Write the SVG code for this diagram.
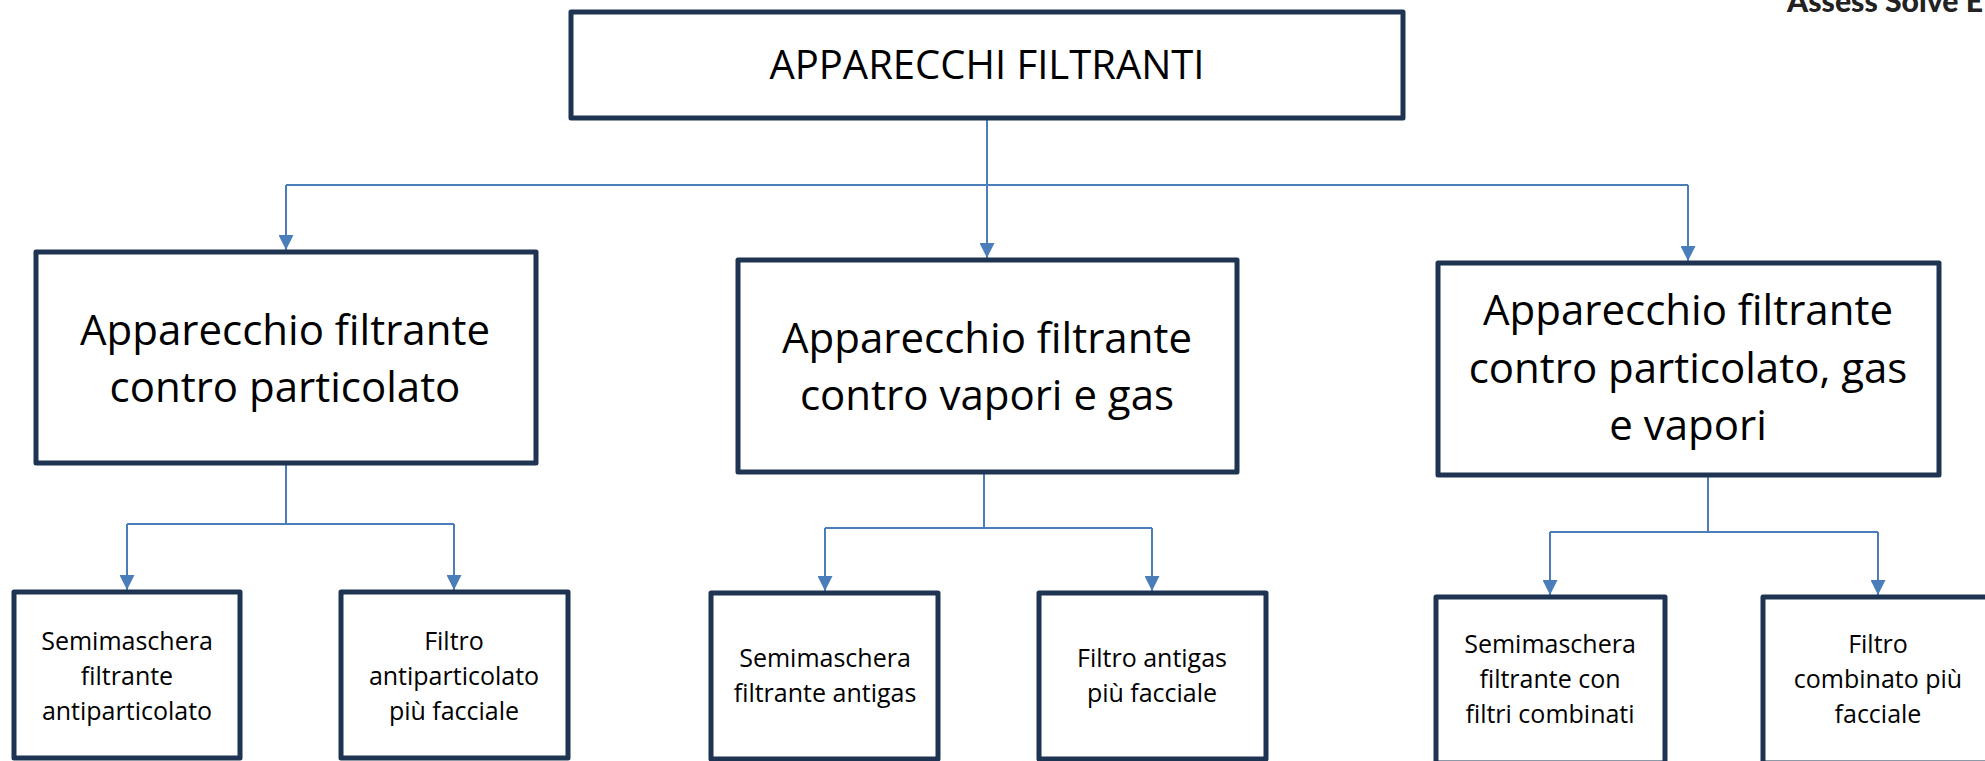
<svg xmlns="http://www.w3.org/2000/svg" width="1985" height="761" viewBox="0 0 1985 761">
<defs>
<style>
.box{fill:#ffffff;stroke:#1f3452;stroke-width:5;stroke-linejoin:round}
.conn{fill:none;stroke:#4a7ebb;stroke-width:2}
.t{font-family:"Open Sans","Liberation Sans",sans-serif;fill:#000;text-anchor:middle}
.big{font-size:42px}
.top{font-size:40px}
.small{font-size:25px}
.wm{font-family:Lato,Roboto,"Liberation Sans",sans-serif;font-weight:900;font-size:31px;fill:#222}
</style>
<marker id="arr" viewBox="0 0 10 10" refX="10" refY="5" markerWidth="15" markerHeight="15" markerUnits="userSpaceOnUse" orient="auto">
<path d="M0,0 L10,5 L0,10 z" fill="#4a7ebb"/>
</marker>
</defs>
<rect width="1985" height="761" fill="#ffffff"/>
<text class="wm" x="1787" y="12" textLength="196" lengthAdjust="spacingAndGlyphs">Assess Solve E</text>
<g id="connectors">
<polyline class="conn" points="987,118 987,185"/>
<polyline class="conn" points="286,185 1688,185"/>
<polyline class="conn" points="286,185 286,250" marker-end="url(#arr)"/>
<polyline class="conn" points="987,185 987,258" marker-end="url(#arr)"/>
<polyline class="conn" points="1688,185 1688,261" marker-end="url(#arr)"/>
<polyline class="conn" points="286,463 286,524"/>
<polyline class="conn" points="127,524 454,524"/>
<polyline class="conn" points="127,524 127,590" marker-end="url(#arr)"/>
<polyline class="conn" points="454,524 454,590" marker-end="url(#arr)"/>
<polyline class="conn" points="984,466 984,528"/>
<polyline class="conn" points="825,528 1152,528"/>
<polyline class="conn" points="825,528 825,591" marker-end="url(#arr)"/>
<polyline class="conn" points="1152,528 1152,591" marker-end="url(#arr)"/>
<polyline class="conn" points="1708,475 1708,532"/>
<polyline class="conn" points="1550,532 1878,532"/>
<polyline class="conn" points="1550,532 1550,595" marker-end="url(#arr)"/>
<polyline class="conn" points="1878,532 1878,595" marker-end="url(#arr)"/>
</g>
<g id="n-root">
<rect class="box" x="571" y="12" width="832" height="106"/>
<text class="t top" x="987" y="79">APPARECCHI FILTRANTI</text>
</g>
<g id="n-particolato">
<rect class="box" x="36" y="252" width="500" height="211"/>
<text class="t big" x="285" y="345">Apparecchio filtrante</text>
<text class="t big" x="285" y="402">contro particolato</text>
</g>
<g id="n-vapori">
<rect class="box" x="738" y="260" width="499" height="212"/>
<text class="t big" x="987" y="353">Apparecchio filtrante</text>
<text class="t big" x="987" y="410">contro vapori e gas</text>
</g>
<g id="n-combinato">
<rect class="box" x="1438" y="263" width="501" height="212"/>
<text class="t big" x="1688" y="325">Apparecchio filtrante</text>
<text class="t big" x="1688" y="383">contro particolato, gas</text>
<text class="t big" x="1688" y="440">e vapori</text>
</g>
<g id="n-semi-anti">
<rect class="box" x="14" y="592" width="226" height="166"/>
<text class="t small" x="127" y="650">Semimaschera</text>
<text class="t small" x="127" y="685">filtrante</text>
<text class="t small" x="127" y="720">antiparticolato</text>
</g>
<g id="n-filtro-anti">
<rect class="box" x="341" y="592" width="227" height="166"/>
<text class="t small" x="454" y="650">Filtro</text>
<text class="t small" x="454" y="685">antiparticolato</text>
<text class="t small" x="454" y="720">più facciale</text>
</g>
<g id="n-semi-gas">
<rect class="box" x="711" y="593" width="227" height="166"/>
<text class="t small" x="825" y="667">Semimaschera</text>
<text class="t small" x="825" y="702">filtrante antigas</text>
</g>
<g id="n-filtro-gas">
<rect class="box" x="1039" y="593" width="227" height="166"/>
<text class="t small" x="1152" y="667">Filtro antigas</text>
<text class="t small" x="1152" y="702">più facciale</text>
</g>
<g id="n-semi-comb">
<rect class="box" x="1436" y="597" width="229" height="166"/>
<text class="t small" x="1550" y="653">Semimaschera</text>
<text class="t small" x="1550" y="688">filtrante con</text>
<text class="t small" x="1550" y="723">filtri combinati</text>
</g>
<g id="n-filtro-comb">
<rect class="box" x="1763" y="597" width="229" height="166"/>
<text class="t small" x="1878" y="653">Filtro</text>
<text class="t small" x="1878" y="688">combinato più</text>
<text class="t small" x="1878" y="723">facciale</text>
</g>
</svg>
